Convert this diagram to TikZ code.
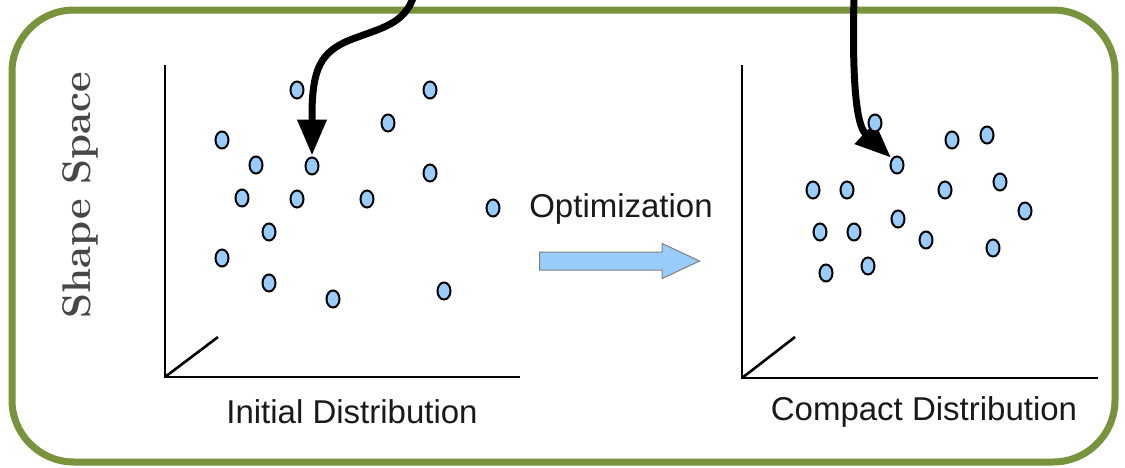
\documentclass[tikz,border=0pt]{standalone}
\usepackage{fontspec}
\newfontfamily\arial{Liberation Sans}
\usetikzlibrary{arrows.meta,shapes.geometric,shapes.arrows}
\definecolor{dotblue}{HTML}{99CCFA}
\definecolor{frame}{HTML}{77933C}
\definecolor{labelgray}{HTML}{474747}
\pgfdeclarelayer{background}
\pgfsetlayers{background,main}
\begin{document}
\begin{tikzpicture}[x=1pt,y=-1pt,
  dot/.style={draw=black, fill=dotblue, ellipse, line width=2pt, minimum width=13pt, minimum height=17pt, inner sep=0pt},
  axis/.style={line width=2.6pt, black},
  bigarrow/.style={line width=7pt, black, -{Triangle[length=36pt,width=28pt]}, shorten >=1pt},
  caption/.style={font=\arial\fontsize{33}{38}\selectfont, text=black!90},
]
\useasboundingbox (0,0) rectangle (1125,467);
\clip (0,0) rectangle (1125,467);

% left plot axes
\coordinate (oL) at (165,377);
\draw[axis] (165,65) -- (oL) -- (520,377);
\draw[axis] (oL) -- (218,337);
% right plot axes
\coordinate (oR) at (742,378);
\draw[axis] (742,65) -- (oR) -- (1098,378);
\draw[axis] (oR) -- (795,337);

% left dots
\node[dot] (l1) at (297,90) {};
\node[dot] (l2) at (430,90) {};
\node[dot] (l3) at (388,123) {};
\node[dot] (l4) at (222,140) {};
\node[dot] (l5) at (256,165) {};
\node[dot] (dL) at (312,166) {};
\node[dot] (l7) at (430,173) {};
\node[dot] (l8) at (242,198) {};
\node[dot] (l9) at (297,199) {};
\node[dot] (l10) at (367,199) {};
\node[dot] (l11) at (493,208) {};
\node[dot] (l12) at (269,232) {};
\node[dot] (l13) at (222,258) {};
\node[dot] (l14) at (269,283) {};
\node[dot] (l15) at (333,299) {};
\node[dot] (l16) at (444,291) {};

% right dots
\node[dot] (r1) at (875,123) {};
\node[dot] (r2) at (952,140) {};
\node[dot] (r3) at (987,135) {};
\node[dot] (dR) at (897,165) {};
\node[dot] (r5) at (813,190) {};
\node[dot] (r6) at (847,190) {};
\node[dot] (r7) at (945,190) {};
\node[dot] (r8) at (1000,182) {};
\node[dot] (r9) at (1025,211) {};
\node[dot] (r10) at (898,219) {};
\node[dot] (r11) at (820,232) {};
\node[dot] (r12) at (854,232) {};
\node[dot] (r13) at (926,240) {};
\node[dot] (r14) at (993,248) {};
\node[dot] (r15) at (826,273) {};
\node[dot] (r16) at (868,266) {};

% labels
\node[caption] (capL) at (352,412) {Initial Distribution};
\node[caption] (capR) at (924,412) {Compact Distribution};
\node[caption] (opt) at (621,209) {Optimization};
\node[rotate=90, text=labelgray, font=\fontsize{40}{44}\selectfont\bfseries] (ss) at (80,195) {Shape Space};

% block arrow
\node[single arrow, draw=black!50, line width=1pt, fill=dotblue, minimum width=34pt,
      single arrow head extend=8.5pt, single arrow tip angle=50, minimum height=160pt,
      inner xsep=0pt, inner ysep=8.5pt] (blk) at (610,261) {};

\begin{pgfonlayer}{background}
\draw[frame, line width=7pt, rounded corners=62pt] (12,10) rectangle (1115,462);
\coordinate (sL) at (414,-5);
\coordinate (sR) at (854,-5);
\draw[bigarrow] (sL) .. controls (405,25) and (380,28) .. (350,40)
   .. controls (320,52) and (313,70) .. (312,110) -- (dL.north);
\draw[bigarrow] (sR) .. controls (852,80) and (856,125) .. (dR.north west);
\end{pgfonlayer}
\end{tikzpicture}
\end{document}
